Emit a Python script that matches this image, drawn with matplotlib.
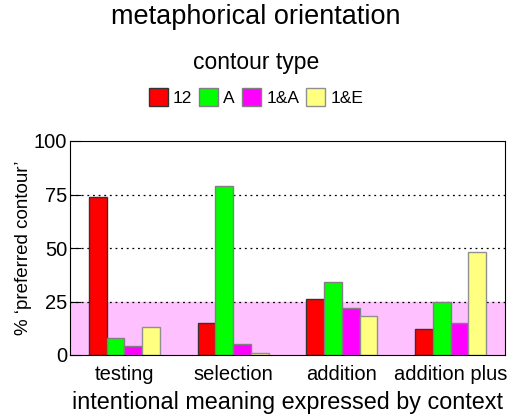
import matplotlib
matplotlib.use("Agg")
import matplotlib.pyplot as plt
import numpy as np

plt.rcParams["font.family"] = ["Liberation Sans", "DejaVu Sans"]

contextos = ["testing", "selection", "addition", "addition plus"]
contornos = ["12", "A", "1&A", "1&E"]
valores = {
    "12": [74, 15, 26, 12],
    "A": [8, 79, 34, 25],
    "1&A": [4, 5, 22, 15],
    "1&E": [13, 1, 18, 48],
}
CORES = {"12": "#ff0000", "A": "#00ff00", "1&A": "#ff00ff", "1&E": "#ffff80"}
BORDAS = {"12": "#333333", "A": "#808080", "1&A": "#808080", "1&E": "#909090"}
nivel_acaso = 25
ticks_y = [0, 25, 50, 75, 100]

fig = plt.figure(figsize=(5.12, 4.16), dpi=100)
ax = fig.add_axes([70 / 512, 1 - 355 / 416, 435 / 512, 214 / 416])

x = np.arange(len(contextos))
largura = 0.163
ax.axhspan(0, nivel_acaso, color="#ffc0ff", zorder=0)
for v in ticks_y[1:-1]:
    ax.axhline(v, color="black", linestyle=(0, (1.5, 3)), linewidth=0.9, zorder=1)

for i, c in enumerate(contornos):
    ax.bar(x + (i - 1.5) * largura, valores[c], width=largura, color=CORES[c],
           edgecolor=BORDAS[c], linewidth=1.0, zorder=2, label=c)

ax.set_xlim(-0.5, len(contextos) - 0.5)
ax.set_ylim(0, 100)
ax.set_yticks(ticks_y)
ax.set_xticks(x)
ax.set_xticklabels(contextos)
ax.tick_params(axis="x", length=0, labelsize=14.5, pad=7)
ax.tick_params(axis="y", direction="in", length=8, width=0.8, labelsize=14.5, pad=2)
ax.set_ylabel("% \u2018preferred contour\u2019", fontsize=13.5, labelpad=1)
ax.set_xlabel("intentional meaning expressed by context", fontsize=16.8, labelpad=5)

fig.text(0.5, 1 - 17 / 416, "metaphorical orientation", ha="center", va="center", fontsize=19.5)
fig.text(0.5, 1 - 62 / 416, "contour type", ha="center", va="center", fontsize=16.5)
fig.legend(loc="center", bbox_to_anchor=(0.5, 1 - 97 / 416), ncol=4, frameon=False,
           fontsize=12.5, handlelength=1.1, handleheight=1.2, handletextpad=0.3,
           columnspacing=0.4)

fig.savefig("out.png", dpi=100, facecolor="white")
